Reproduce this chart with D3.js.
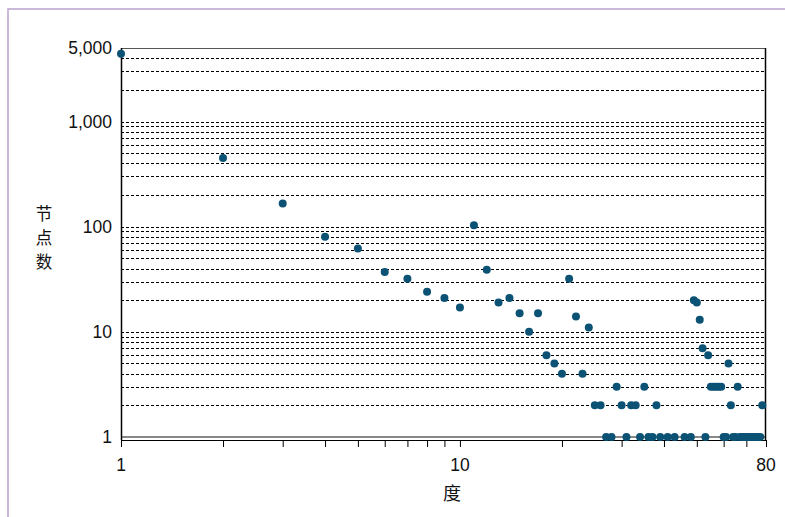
<!DOCTYPE html>
<html>
<head>
<meta charset="utf-8">
<script src="https://cdn.jsdelivr.net/npm/d3@7"></script>
<style>
  body { margin: 0; background: #fff; }
  svg { display: block; font-family: "Liberation Sans", Arial, sans-serif; }
  .lbl { font-size: 17.5px; fill: #111; }
  .title { font-family: "Noto Sans CJK SC", sans-serif; font-size: 16.5px; fill: #111; }
</style>
</head>
<body>
<div id="chart"></div>
<script>
// degree distribution (log-log)
const degrees = [1,2,3,4,5,6,7,8,9,10,11,12,13,14,15,16,17,18,19,20,
  21,22,23,24,25,26,27,28,29,30,31,32,33,34,35,36,37,38,39,41,43,46,48,
  49,50,51,52,53,54,55,56,57,58,59,60,61,62,63,64,65,66,67,68,69,70,71,72,73,74,75,76,77,78];
const counts = [4400,450,166,80,62,37,32,24,21,17,103,39,19,21,15,10,15,6,5,4,
  32,14,4,11,2,2,1,1,3,2,1,2,2,1,3,1,1,2,1,1,1,1,1,
  20,19,13,7,1,6,3,3,3,3,3,1,1,5,2,1,1,3,1,1,1,1,1,1,1,1,1,1,1,2];

const xTicks = [1,2,3,4,5,6,7,8,9,10,20,30,40,50,60,70,80];
const xLabels = [1, 10, 80];
const yLabels = [1, 10, 100, 1000, 5000];
const gridVals = [2,3,4,5,6,7,8,9,10,20,30,40,50,60,70,80,90,100,
  200,300,400,500,600,700,800,900,1000,2000,3000,4000];

const width = 785, height = 517;
const margin = {top: 48, right: 19, bottom: 79, left: 121};

const svg = d3.select('#chart').append('svg')
  .attr('width', width).attr('height', height);

// outer frame (top + left only visible)
svg.append('path')
  .attr('d', `M8,${height} V9 H${width}`)
  .attr('fill', 'none').attr('stroke', '#b9a2cd').attr('stroke-width', 1.5);

const x = d3.scaleLog().domain([1, 80]).range([margin.left, width - margin.right]);
const y = d3.scaleLog().domain([1, 5000]).range([height - margin.bottom - 1, margin.top]);

// grid
svg.append('g').selectAll('line').data(gridVals).join('line')
  .attr('x1', x(1)).attr('x2', x(80))
  .attr('y1', d => Math.round(y(d)) + 0.5).attr('y2', d => Math.round(y(d)) + 0.5)
  .attr('stroke', '#000').attr('stroke-width', 1).attr('stroke-dasharray', '3,2');

// top border + baseline at 1
svg.append('line').attr('x1', x(1)).attr('x2', x(80))
  .attr('y1', y(5000) + 0.5).attr('y2', y(5000) + 0.5)
  .attr('stroke', '#555').attr('stroke-width', 1);
svg.append('line').attr('x1', x(1)).attr('x2', x(80))
  .attr('y1', y(1)).attr('y2', y(1))
  .attr('stroke', '#888').attr('stroke-width', 2);

// x axis
const axisY = y(1) + 3;
svg.append('g')
  .attr('transform', `translate(0,${axisY})`)
  .call(d3.axisBottom(x).tickValues(xTicks).tickSize(7).tickSizeOuter(0).tickFormat(''))
  .call(g => g.selectAll('path,line').attr('stroke', '#000'));

svg.append('g').selectAll('text').data(xLabels).join('text')
  .attr('class', 'lbl')
  .attr('x', d => x(d)).attr('y', 471)
  .attr('text-anchor', 'middle')
  .text(d => d);

// left axis + right border
svg.append('line').attr('x1', x(1) + 0.5).attr('x2', x(1) + 0.5)
  .attr('y1', y(5000)).attr('y2', axisY)
  .attr('stroke', '#000').attr('stroke-width', 1.5);
svg.append('line').attr('x1', x(80) - 0.5).attr('x2', x(80) - 0.5)
  .attr('y1', y(5000)).attr('y2', axisY)
  .attr('stroke', '#000').attr('stroke-width', 1.5);

svg.append('g').selectAll('text').data(yLabels).join('text')
  .attr('class', 'lbl')
  .attr('x', 112).attr('y', d => y(d))
  .attr('dy', '0.35em')
  .attr('text-anchor', 'end')
  .text(d => d3.format(',')(d));

// titles
svg.append('text').attr('class', 'title')
  .attr('x', 452).attr('y', 500).attr('text-anchor', 'middle')
  .style('font-size', '18px').text('度');
svg.append('g').selectAll('text').data(['节', '点', '数']).join('text')
  .attr('class', 'title')
  .attr('x', 44).attr('y', (d, i) => 220 + i * 24)
  .attr('text-anchor', 'middle')
  .text(d => d);

// points
svg.append('g').selectAll('circle').data(degrees).join('circle')
  .attr('cx', d => x(d))
  .attr('cy', (d, i) => y(counts[i]))
  .attr('r', 4)
  .attr('fill', '#0b5275');
</script>
</body>
</html>
